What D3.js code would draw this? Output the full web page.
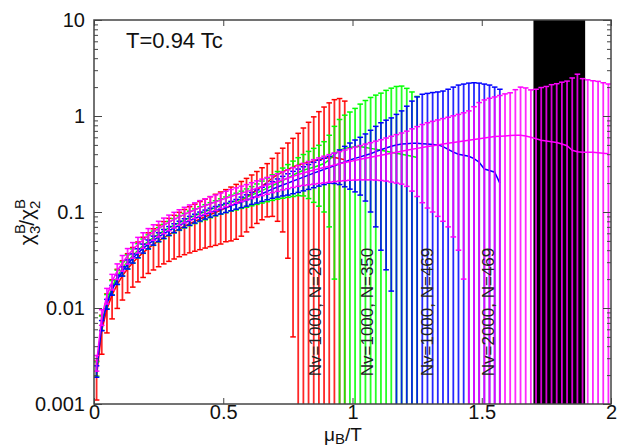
<!DOCTYPE html>
<html>
<head>
<meta charset="utf-8">
<script src="https://cdn.jsdelivr.net/npm/d3@7"></script>
<style>
  body { margin: 0; background: #fff; }
  text { font-family: "Liberation Sans", Arial, sans-serif; }
</style>
</head>
<body>
<svg id="chart" width="618" height="448"></svg>
<script>
// mu_B/T grid of every series: muStart, muStart + muStep, ...
const muStart = 0.01, muStep = 0.02;

// Nv=1000, N=200 (red)
const redVal = [0.00195,0.00585,0.00976,0.0137,0.0176,0.0216,0.0256,0.0296,0.0337,0.0377,
  0.0418,0.0459,0.05,0.0541,0.0582,0.0624,0.0667,0.0711,0.0755,0.0799,
  0.0845,0.0892,0.094,0.0989,0.104,0.11,0.116,0.123,0.132,0.143,
  0.156,0.17,0.186,0.204,0.226,0.245,0.262,0.278,0.295,0.31,
  0.32,0.33,0.34,0.35,0.36,0.37,0.37,0.36,0.35];
const redErr = [0.00085,0.00255,0.00426,0.006,0.0077,0.0095,0.0112,0.0131,0.015,0.0169,
  0.0189,0.021,0.0231,0.0253,0.0276,0.03,0.0325,0.0352,0.038,0.0409,
  0.044,0.0471,0.0505,0.054,0.0576,0.061,0.066,0.071,0.076,0.081,
  0.087,0.094,0.103,0.115,0.136,0.165,0.2,0.245,0.29,0.35,
  0.43,0.53,0.64,0.76,0.88,1.0,1.11,1.16,1.08];

// Nv=1000, N=350 (green)
const greenVal = [0.00235,0.00705,0.0118,0.0165,0.0212,0.0259,0.0306,0.0353,0.04,0.0447,
  0.0494,0.0541,0.0588,0.0635,0.0682,0.0729,0.0776,0.0823,0.087,0.0917,
  0.0964,0.101,0.106,0.111,0.116,0.121,0.126,0.131,0.137,0.143,
  0.15,0.158,0.167,0.177,0.188,0.2,0.213,0.227,0.242,0.258,
  0.272,0.283,0.293,0.305,0.32,0.35,0.4,0.44,0.46,0.47,
  0.48,0.48,0.47,0.46,0.45,0.44,0.43,0.42,0.41,0.4,
  0.39,0.38,0.37];
const greenErr = [0.0004,0.0012,0.002,0.0028,0.0036,0.0044,0.0052,0.006,0.0068,0.0076,
  0.0084,0.0092,0.01,0.0108,0.0116,0.0124,0.0133,0.0142,0.0151,0.016,
  0.017,0.018,0.019,0.02,0.0212,0.0225,0.024,0.026,0.028,0.031,
  0.034,0.038,0.043,0.049,0.056,0.064,0.074,0.085,0.097,0.11,
  0.125,0.145,0.167,0.19,0.22,0.28,0.38,0.48,0.56,0.63,
  0.72,0.85,0.98,1.1,1.2,1.29,1.42,1.53,1.62,1.65,
  1.55,1.4,1.23];

// Nv=1000, N=469 (blue)
const blueVal = [0.0022,0.0066,0.011,0.0154,0.0198,0.0242,0.0286,0.033,0.0374,0.0418,
  0.0462,0.0506,0.055,0.0594,0.0638,0.0682,0.0726,0.077,0.0814,0.0858,
  0.0902,0.0946,0.099,0.103,0.107,0.111,0.116,0.121,0.127,0.133,
  0.14,0.147,0.155,0.164,0.173,0.182,0.191,0.2,0.21,0.22,
  0.231,0.242,0.254,0.266,0.278,0.29,0.303,0.318,0.333,0.348,
  0.362,0.375,0.39,0.405,0.425,0.445,0.465,0.485,0.5,0.51,
  0.515,0.52,0.52,0.515,0.51,0.505,0.5,0.48,0.45,0.42,
  0.4,0.39,0.38,0.36,0.33,0.28,0.27,0.26,0.2];
const blueErr = [0.0003,0.0008,0.0013,0.0018,0.0022,0.0027,0.0031,0.0036,0.004,0.0045,
  0.0049,0.0054,0.0058,0.0063,0.0067,0.0072,0.0076,0.0081,0.0086,0.0091,
  0.0096,0.0101,0.0106,0.0111,0.0116,0.0122,0.013,0.014,0.016,0.018,
  0.02,0.023,0.026,0.03,0.034,0.039,0.044,0.05,0.055,0.06,
  0.065,0.07,0.075,0.08,0.085,0.09,0.105,0.125,0.15,0.175,
  0.2,0.225,0.26,0.305,0.355,0.405,0.44,0.47,0.54,0.62,
  0.75,0.91,1.06,1.17,1.21,1.25,1.28,1.34,1.45,1.58,
  1.7,1.76,1.82,1.86,1.87,1.87,1.83,1.74,1.7];

// Nv=2000, N=469 (magenta)
const magentaVal = [0.0027,0.0081,0.0135,0.0189,0.0243,0.0297,0.0351,0.0405,0.0459,0.0513,
  0.0567,0.0621,0.0675,0.0729,0.0783,0.0837,0.0891,0.0945,0.0999,0.105,
  0.111,0.116,0.122,0.127,0.133,0.139,0.145,0.151,0.157,0.163,
  0.17,0.177,0.184,0.191,0.199,0.207,0.216,0.225,0.235,0.245,
  0.255,0.264,0.273,0.282,0.291,0.3,0.309,0.318,0.327,0.336,
  0.345,0.354,0.363,0.372,0.381,0.39,0.4,0.41,0.42,0.43,
  0.44,0.45,0.46,0.47,0.48,0.49,0.5,0.51,0.52,0.53,
  0.54,0.55,0.56,0.57,0.58,0.59,0.6,0.61,0.615,0.62,
  0.625,0.63,0.63,0.62,0.6,0.58,0.56,0.55,0.54,0.53,
  0.51,0.49,0.44,0.425,0.42,0.42,0.42,0.415,0.41,0.405];
const magentaErr = [0.0005,0.0015,0.0025,0.0035,0.0045,0.0055,0.0065,0.0075,0.0085,0.0095,
  0.0105,0.0115,0.0125,0.0135,0.0145,0.0155,0.0165,0.0175,0.0185,0.0195,
  0.0205,0.0215,0.0225,0.0235,0.0245,0.0255,0.0265,0.0275,0.029,0.03,
  0.032,0.034,0.036,0.038,0.04,0.043,0.046,0.05,0.055,0.06,
  0.066,0.072,0.078,0.084,0.09,0.096,0.102,0.108,0.115,0.122,
  0.13,0.138,0.147,0.156,0.166,0.177,0.19,0.205,0.22,0.235,
  0.255,0.285,0.315,0.345,0.37,0.39,0.41,0.43,0.45,0.475,
  0.5,0.53,0.57,0.68,0.8,0.88,0.93,0.97,1.02,1.08,
  1.12,1.25,1.37,1.34,1.27,1.32,1.42,1.48,1.58,1.64,
  1.74,1.82,2.05,2.3,2.03,1.96,1.91,1.88,1.81,1.75];

const seriesNames = ["Nv=1000, N=200", "Nv=1000, N=350", "Nv=1000, N=469", "Nv=2000, N=469"];
const seriesColors = ["#ff0000", "#00ff00", "#0000ff", "#ff00ff"];
const seriesLabelMu = [0.855, 1.055, 1.29, 1.525];
const bandMu = [1.7, 1.9];
const xTicks = [0, 0.5, 1, 1.5, 2];
const yTicks = [0.001, 0.01, 0.1, 1, 10];

const series = [
  { vals: redVal, errs: redErr },
  { vals: greenVal, errs: greenErr },
  { vals: blueVal, errs: blueErr },
  { vals: magentaVal, errs: magentaErr }
].map((s, k) => ({
  name: seriesNames[k],
  color: seriesColors[k],
  points: s.vals.map((v, i) => ({ mu: muStart + i * muStep, v: v, e: s.errs[i] }))
}));

const plotLeft = 94, plotRight = 611, plotTop = 20, plotBottom = 404;
const x = d3.scaleLinear().domain([0, 2]).range([plotLeft, plotRight]);
const y = d3.scaleLog().domain([0.001, 10]).range([plotBottom, plotTop]);
const yMin = y.domain()[0];

const svg = d3.select("#chart");

svg.append("clipPath").attr("id", "plotArea")
  .append("rect")
  .attr("x", plotLeft).attr("y", plotTop)
  .attr("width", plotRight - plotLeft).attr("height", plotBottom - plotTop);

const plot = svg.append("g").attr("clip-path", "url(#plotArea)");

// black band behind the data
plot.append("rect")
  .attr("x", x(bandMu[0]))
  .attr("y", plotTop)
  .attr("width", x(bandMu[1]) - x(bandMu[0]))
  .attr("height", plotBottom - plotTop)
  .style("fill", "#000");

const capHalf = 2.8;

series.forEach(s => {
  const g = plot.append("g").style("stroke", s.color);

  // vertical error bars, a bar whose lower end is below zero runs to the bottom
  g.selectAll(".bar")
    .data(s.points)
    .enter()
    .append("line")
    .attr("x1", d => x(d.mu)).attr("x2", d => x(d.mu))
    .attr("y1", d => y(d.v + d.e))
    .attr("y2", d => (d.v - d.e > yMin ? y(d.v - d.e) : y(yMin)))
    .style("stroke-width", 1.8)
    .style("stroke-opacity", 0.85);

  // upper caps
  g.selectAll(".capHi")
    .data(s.points)
    .enter()
    .append("line")
    .attr("x1", d => x(d.mu) - capHalf).attr("x2", d => x(d.mu) + capHalf)
    .attr("y1", d => y(d.v + d.e)).attr("y2", d => y(d.v + d.e))
    .style("stroke-width", 1.5);

  // lower caps
  g.selectAll(".capLo")
    .data(s.points.filter(d => d.v - d.e > yMin))
    .enter()
    .append("line")
    .attr("x1", d => x(d.mu) - capHalf).attr("x2", d => x(d.mu) + capHalf)
    .attr("y1", d => y(d.v - d.e)).attr("y2", d => y(d.v - d.e))
    .style("stroke-width", 1.5);

  // central values
  g.append("path")
    .datum(s.points)
    .attr("d", d3.line().x(d => x(d.mu)).y(d => y(d.v)))
    .style("fill", "none")
    .style("stroke-width", 1.5);
});

// rotated series labels
series.forEach((s, k) => {
  svg.append("text")
    .attr("transform", `translate(${x(seriesLabelMu[k]) + 6},312) rotate(-90)`)
    .attr("text-anchor", "middle")
    .style("font-size", "17px")
    .style("fill", "#222")
    .text(s.name);
});

// axes: ticks point inwards on all four sides
const axisColor = "#444";

const yMinor = [];
[0.001, 0.01, 0.1, 1].forEach(p => { for (let m = 2; m <= 9; m++) yMinor.push(p * m); });

function styleAxis(g) {
  g.select(".domain").remove();
  g.selectAll("line").style("stroke", axisColor);
  g.selectAll("text").style("font-size", "20px").style("fill", "#111")
    .style("font-family", "'Liberation Sans', Arial, sans-serif");
}

svg.append("g").attr("transform", `translate(${plotLeft},0)`)
  .call(d3.axisLeft(y).tickValues(yTicks).tickSize(-8).tickPadding(9)
    .tickFormat(d => String(d)))
  .call(styleAxis);
svg.append("g").attr("transform", `translate(${plotLeft},0)`)
  .call(d3.axisLeft(y).tickValues(yMinor).tickSize(-4).tickFormat(""))
  .call(styleAxis);
svg.append("g").attr("transform", `translate(${plotRight},0)`)
  .call(d3.axisRight(y).tickValues(yTicks).tickSize(-8).tickFormat(""))
  .call(styleAxis);
svg.append("g").attr("transform", `translate(${plotRight},0)`)
  .call(d3.axisRight(y).tickValues(yMinor).tickSize(-4).tickFormat(""))
  .call(styleAxis);
svg.append("g").attr("transform", `translate(0,${plotBottom})`)
  .call(d3.axisBottom(x).tickValues(xTicks).tickSize(-6).tickPadding(1)
    .tickFormat(d => String(d)))
  .call(styleAxis);
svg.append("g").attr("transform", `translate(0,${plotTop})`)
  .call(d3.axisTop(x).tickValues(xTicks).tickSize(-6).tickFormat(""))
  .call(styleAxis);

svg.append("rect")
  .attr("x", plotLeft).attr("y", plotTop)
  .attr("width", plotRight - plotLeft).attr("height", plotBottom - plotTop)
  .style("fill", "none")
  .style("stroke", axisColor)
  .style("stroke-width", 1.5);

// temperature note
svg.append("text")
  .attr("x", 126).attr("y", 48)
  .style("font-size", "22px")
  .style("fill", "#111")
  .text("T=0.94 Tc");

// x axis title: mu_B/T
const xTitle = svg.append("text")
  .attr("x", 324).attr("y", 441)
  .style("font-size", "19px")
  .style("fill", "#111");
xTitle.append("tspan").text("μ");
xTitle.append("tspan").attr("dy", 3).style("font-size", "15px").text("B");
xTitle.append("tspan").attr("dy", -3).text("/T");

// y axis title: chi_3^B / chi_2^B, read upwards
const yTitle = svg.append("text")
  .attr("transform", "translate(34,222) rotate(-90)")
  .attr("text-anchor", "middle")
  .style("font-size", "21px")
  .style("fill", "#111");
yTitle.append("tspan").text("χ");
yTitle.append("tspan").attr("dy", -9).style("font-size", "15px").text("B");
yTitle.append("tspan").attr("dx", -10).attr("dy", 15).style("font-size", "15px").text("3");
yTitle.append("tspan").attr("dy", -6).text("/χ");
yTitle.append("tspan").attr("dy", -9).style("font-size", "15px").text("B");
yTitle.append("tspan").attr("dx", -10).attr("dy", 15).style("font-size", "15px").text("2");
</script>
</body>
</html>
